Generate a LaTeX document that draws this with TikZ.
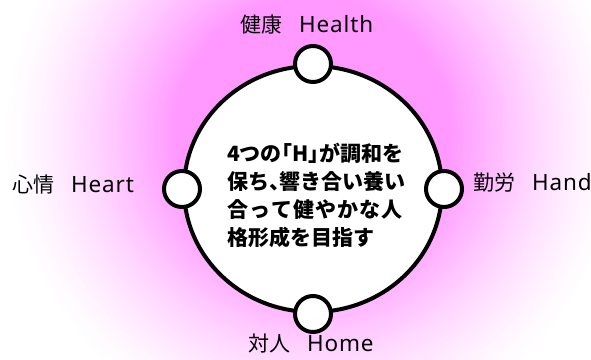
\documentclass[tikz,border=0pt]{standalone}
\usepackage{fontspec}
\setmainfont{Noto Sans CJK JP}
\newfontfamily\latfont[Scale=1.07,LetterSpace=4]{Noto Sans}
\usetikzlibrary{shapes.geometric}
\definecolor{glowA}{HTML}{FF99FF}
\newcommand\lkag{\makebox[0.5em][r]{「}}
\newcommand\rkag{\makebox[0.5em][l]{」}}
\newcommand\tten{\makebox[0.5em][l]{、}}
\tikzset{
  ring/.style={ellipse, draw, line width=4pt, fill=white, inner sep=0pt, minimum width=258pt, minimum height=246pt},
  knob/.style={circle, draw, line width=4pt, fill=white, inner sep=0pt, minimum size=36pt},
  lbl/.style={inner sep=0pt, anchor=west, font=\fontsize{21}{25}\selectfont},
  maintext/.style={inner sep=0pt, align=left, anchor=north west, font=\bfseries\fontsize{21}{28}\selectfont}
}
\begin{document}
\begin{tikzpicture}[x=1pt,y=-1pt]
\useasboundingbox (0,0) rectangle (591,359);
\fill[white] (0,0) rectangle (591,359);
\begin{scope}
\clip (0,0) rectangle (591,359);
\foreach \r in {312,309,...,138} {
  \pgfmathsetmacro\p{min(100,100*((312-\r)/172)^1.4)}
  \fill[glowA!\p!white] (313,135) circle [radius=\r pt];
}
\end{scope}
\node[ring] (big) at (313,189) {};
\node[knob] (top) at (big.north) {};
\node[knob] (bottom) at (big.south) {};
\node[knob] (left) at (big.west) {};
\node[knob] (right) at (big.east) {};
\node[maintext] (txt) at (227,143) {4つの\lkag H\rkag が調和を\\保ち\tten 響き合い養い\\\makebox[175pt][l]{合\hfill っ\hfill て\hfill 健\hfill や\hfill か\hfill な\hfill 人}\\格形成を目指す};
\node[lbl] (health) at (240,25) {健康\hspace{0.8em}{\latfont Health}};
\node[lbl] (heart) at (12,185) {心情\hspace{0.8em}{\latfont Heart}};
\node[lbl] (hand) at (473,183) {勤労\hspace{0.8em}{\latfont Hand}};
\node[lbl] (home) at (248,344) {対人\hspace{0.8em}{\latfont Home}};
\end{tikzpicture}
\end{document}
